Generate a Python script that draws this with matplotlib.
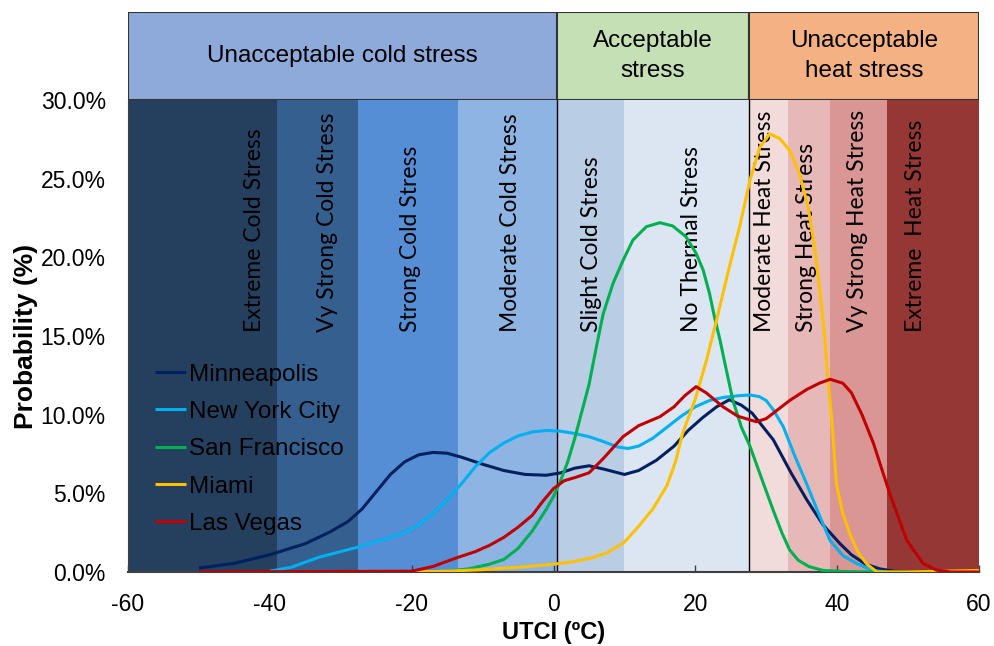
import matplotlib.pyplot as plt
from matplotlib.ticker import PercentFormatter

# UTCI stress classes (edges in degC) and their fill colours
band_edges = [-60, -39, -27.5, -13.5, 0.5, 10, 27.5, 33, 39, 47, 60]
band_colors = ["#253f5e", "#355f8f", "#558ed5", "#8eb4e3", "#b9cde5",
               "#dce6f2", "#f2dcdb", "#e6b9b8", "#d99694", "#953735"]
band_labels = ["Extreme Cold Stress", "Vy Strong Cold Stress", "Strong Cold Stress",
               "Moderate Cold Stress", "Slight Cold Stress", "No Thermal Stress",
               "Moderate Heat Stress", "Strong Heat Stress", "Vy Strong Heat Stress",
               "Extreme  Heat Stress"]
band_label_x = [-42.1, -31.8, -20.2, -6.1, 5.4, 19.5, 29.8, 35.7, 42.9, 51.0]

group_edges = [-60, 0.5, 27.5, 60]
group_colors = ["#8eaadb", "#c5e0b4", "#f4b183"]
group_labels = ["Unacceptable cold stress", "Acceptable\nstress", "Unacceptable\nheat stress"]

# probability density of UTCI per city, in percent
mpls_x = [-50, -45, -40, -35, -31.5, -29, -27, -25, -23, -21, -19, -17, -15, -13, -10,
          -7, -4, -1, 1, 3, 5, 7, 10, 12, 14.5, 17, 19, 21, 23, 24.8, 26.5, 28, 31,
          33.5, 35.7, 38, 40.4, 42, 44, 46, 48, 50]
mpls_y = [0.25, 0.55, 1.1, 1.8, 2.55, 3.2, 4.0, 5.1, 6.2, 7.0, 7.45, 7.6, 7.55, 7.3, 6.85,
          6.45, 6.2, 6.15, 6.3, 6.6, 6.75, 6.55, 6.2, 6.45, 7.1, 8.0, 9.0, 9.8, 10.5, 10.95,
          10.6, 10.1, 8.4, 6.3, 4.6, 3.0, 1.8, 1.1, 0.5, 0.2, 0.05, 0.0]

nyc_x = [-40, -37, -33, -30, -27, -24, -21, -19, -17, -15, -13, -11, -9, -7, -5, -3, -1,
         1, 3, 5, 7, 9, 10.5, 12, 14, 16, 18, 20, 22, 24, 26, 27.7, 29, 30, 31, 32.4, 34,
         35.7, 37.4, 39, 40.8, 42.7, 45, 47]
nyc_y = [0.05, 0.3, 0.95, 1.3, 1.65, 2.05, 2.5, 3.0, 3.7, 4.6, 5.6, 6.7, 7.6, 8.2, 8.65,
         8.9, 9.0, 8.95, 8.8, 8.6, 8.3, 7.95, 7.85, 8.0, 8.5, 9.2, 9.9, 10.5, 10.9, 11.1,
         11.2, 11.25, 11.15, 10.9, 10.3, 9.24, 7.4, 5.6, 3.7, 2.0, 1.05, 0.55, 0.1, 0.0]

sf_x = [-15, -12, -9, -7, -5, -3, -1, 0, 1, 2, 3, 4, 5, 6, 7, 8.4, 9.8, 11.2, 13.1, 15,
        16.8, 18.7, 20.1, 21.1, 22, 22.7, 23.5, 24.2, 25.3, 26.5, 27.7, 29.3, 31, 32.2,
        33.3, 34.5, 36, 38, 41, 45, 50]
sf_y = [0.05, 0.2, 0.5, 0.8, 1.5, 2.6, 4.0, 4.8, 5.8, 7.0, 8.5, 10.2, 11.9, 14.2, 16.4,
        18.35, 19.8, 21.1, 21.95, 22.2, 22.0, 21.3, 20.26, 19.2, 17.7, 16.2, 14.7, 13.2,
        10.9, 9.2, 8.0, 6.0, 3.9, 2.5, 1.4, 0.75, 0.35, 0.1, 0.03, 0.0, 0.0]

miami_x = [-20, -15, -10, -5, -1, 2, 5, 7.5, 10, 12, 14, 16, 17.2, 18.2, 20, 21.6, 23.2,
           24.8, 26.25, 27.7, 29.1, 30.5, 31.9, 33.3, 34.7, 35.9, 36.8, 37.5, 38.25,
           38.7, 39.2, 39.9, 40.8, 41.8, 43, 44.2, 45.6, 50, 55, 60]
miami_y = [0.0, 0.05, 0.15, 0.3, 0.45, 0.6, 0.85, 1.2, 1.9, 2.9, 4.0, 5.5, 7.0, 8.8, 11.0,
           13.5, 16.4, 19.4, 21.95, 24.9, 27.0, 27.85, 27.55, 26.8, 25.3, 23.2, 20.7,
           18.1, 14.95, 12.2, 9.9, 5.6, 3.7, 2.4, 1.2, 0.5, 0.0, 0.0, 0.05, 0.1]

lv_x = [-50, -20, -17, -14, -11, -9, -7, -5, -3, -1.5, 0, 1.5, 3, 5, 7, 9.8, 12, 15, 17,
        18.5, 20.1, 21.5, 23.9, 26, 28.6, 30, 31, 33.3, 35.7, 37.5, 39, 40.8, 42,
        43.5, 45.1, 47.4, 49.8, 52.1, 54, 56, 60]
lv_y = [0.0, 0.05, 0.35, 0.85, 1.3, 1.7, 2.2, 2.85, 3.6, 4.5, 5.3, 5.8, 6.0, 6.3, 7.2,
        8.6, 9.3, 9.87, 10.5, 11.2, 11.78, 11.4, 10.5, 9.9, 9.55, 9.75, 10.1, 10.9, 11.6,
        12.0, 12.25, 12.0, 11.4, 10.0, 8.2, 5.0, 2.03, 0.55, 0.12, 0.0, 0.0]

cities = ["Minneapolis", "New York City", "San Francisco", "Miami", "Las Vegas"]
city_x = [mpls_x, nyc_x, sf_x, miami_x, lv_x]
city_y = [mpls_y, nyc_y, sf_y, miami_y, lv_y]
city_colors = ["#002060", "#00b0f0", "#00b050", "#ffc000", "#c00000"]

plt.rcParams["font.family"] = ["Liberation Sans", "DejaVu Sans"]
plt.rcParams["axes.unicode_minus"] = False

fig = plt.figure(figsize=(9.95, 6.46), dpi=100)
ax = fig.add_axes([128 / 995, 74 / 646, 851 / 995, 472 / 646])
hdr = fig.add_axes([128 / 995, 546 / 646, 851 / 995, 88 / 646])

# coloured stress bands behind the curves
for i, col in enumerate(band_colors):
    ax.axvspan(band_edges[i], band_edges[i + 1], color=col, lw=0, zorder=0)
    ax.text(band_label_x[i], 15.25, band_labels[i], rotation=90, ha="center",
            va="bottom", fontsize=16.5, family="Lato", zorder=1)
for xv in (0.5, 27.5):
    ax.axvline(xv, color="black", lw=1, zorder=1)

for name, xs, ys, col in zip(cities, city_x, city_y, city_colors):
    ax.plot(xs, ys, color=col, lw=2.2, label=name, zorder=3,
            solid_joinstyle="round", solid_capstyle="butt")

ax.set_xlim(-60, 60)
ax.set_ylim(0, 30)
ax.set_xticks([-60, -40, -20, 0, 20, 40, 60])
ax.set_yticks([0, 5, 10, 15, 20, 25, 30])
ax.yaxis.set_major_formatter(PercentFormatter(decimals=1))
ax.tick_params(axis="x", direction="in", length=5, width=1, color="#404040",
               labelsize=16.5, pad=15)
ax.tick_params(axis="y", length=0, labelsize=16.5, pad=16)
for s in ("top", "right"):
    ax.spines[s].set_visible(False)
ax.spines["bottom"].set_color("#404040")
ax.spines["bottom"].set_linewidth(1.5)
ax.spines["left"].set_color("#404040")
ax.set_xlabel("UTCI (ºC)", fontsize=17, fontweight="bold", labelpad=4)
ax.set_ylabel("Probability (%)", fontsize=19, fontweight="bold", labelpad=2)

ax.legend(loc="upper left", bbox_to_anchor=(0.02, 0.462), frameon=False,
          fontsize=17.5, handlelength=1.3, handletextpad=0.1, labelspacing=0.63,
          borderaxespad=0)

# header boxes grouping the stress classes
for i, col in enumerate(group_colors):
    hdr.axvspan(group_edges[i], group_edges[i + 1], facecolor=col,
                edgecolor="#333333", lw=1.5)
    hdr.text((group_edges[i] + group_edges[i + 1]) / 2, 0.5, group_labels[i],
             ha="center", va="center", fontsize=17.5, linespacing=1.45)
hdr.set_xlim(-60, 60)
hdr.set_ylim(0, 1)
hdr.axis("off")

fig.savefig("out.png", dpi=100)
